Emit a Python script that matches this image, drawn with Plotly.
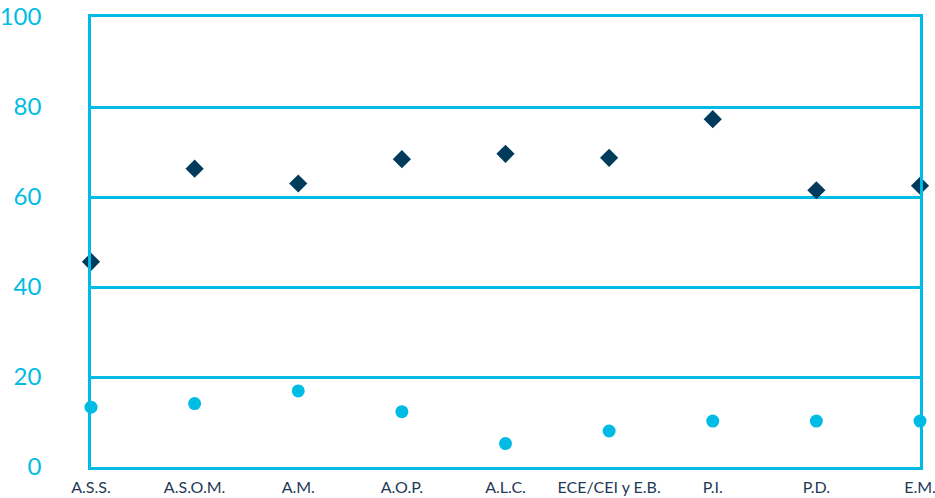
import plotly.graph_objects as go

categories = ["A.S.S.", "A.S.O.M.", "A.M.", "A.O.P.", "A.L.C.", "ECE/CEI y E.B.", "P.I.", "P.D.", "E.M."]
series_diamond = [45.6, 66.3, 63.0, 68.4, 69.6, 68.7, 77.3, 61.5, 62.5]
series_circle = [13.3, 14.1, 16.9, 12.3, 5.2, 8.0, 10.2, 10.2, 10.2]
y_ticks = [0, 20, 40, 60, 80, 100]

CYAN = "#00BCE4"
NAVY = "#003B5C"

fig = go.Figure()
fig.add_trace(go.Scatter(
    x=categories, y=series_diamond, mode="markers",
    marker=dict(symbol="diamond", size=14, color=NAVY),
    cliponaxis=False, showlegend=False))
fig.add_trace(go.Scatter(
    x=categories, y=series_circle, mode="markers",
    marker=dict(symbol="circle", size=13, color=CYAN),
    cliponaxis=False, showlegend=False))

fig.update_layout(
    width=935, height=498,
    margin=dict(l=91, r=15, t=17, b=31),
    plot_bgcolor="white", paper_bgcolor="white",
    font=dict(family="Lato, 'Open Sans', sans-serif"),
    xaxis=dict(
        type="category", range=[0, 8], showgrid=False, zeroline=False, automargin=False,
        showline=True, mirror=True, linecolor=CYAN, linewidth=2.5,
        ticks="", tickfont=dict(size=16, color="#1E3A56"), ticklabelstandoff=4,
    ),
    yaxis=dict(
        range=[0, 100], tickvals=y_ticks, showgrid=True, gridcolor=CYAN, gridwidth=2.5,
        zeroline=False, showline=True, mirror=True, linecolor=CYAN, linewidth=2.5, automargin=False,
        ticks="", tickfont=dict(size=24, color=CYAN), ticklabelstandoff=42,
    ),
)

fig.write_html("out.html", config={"displayModeBar": False},
               post_script="document.body.style.margin='0';document.body.style.overflow='hidden';")
